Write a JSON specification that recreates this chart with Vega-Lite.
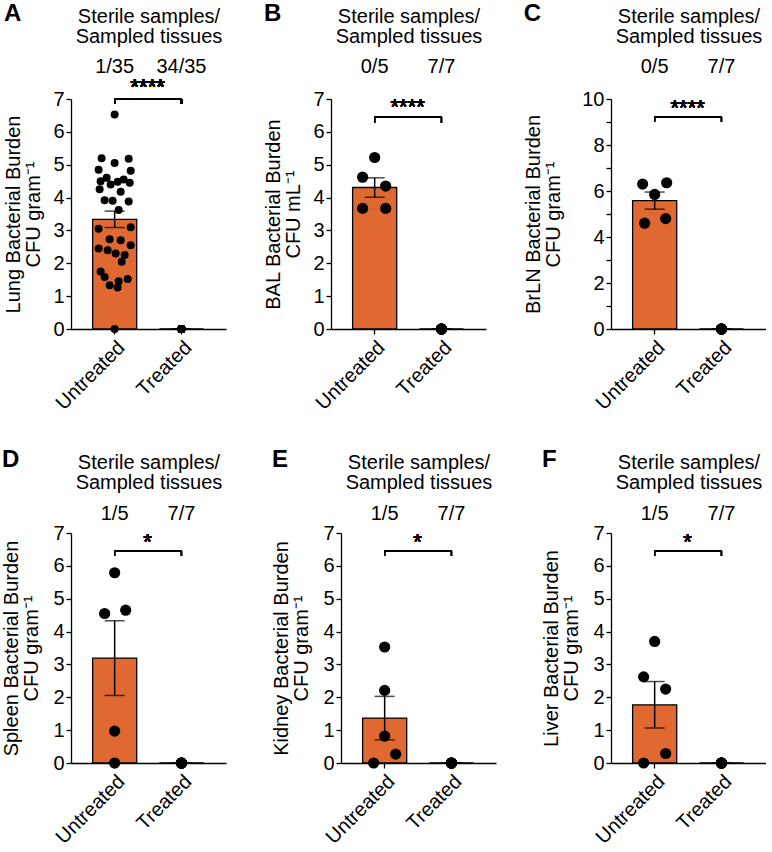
{
  "$schema": "https://vega.github.io/schema/vega-lite/v6.json",
  "padding": {"left": 1, "top": 2, "right": 0, "bottom": 0},
  "background": "white",
  "config": {
    "font": "Liberation Sans",
    "view": {"stroke": null},
    "axis": {"labelFont": "Liberation Sans", "titleFont": "Liberation Sans", "labelFontSize": 20, "titleFontSize": 20, "titleFontWeight": "normal", "titleLineHeight": 20, "labelColor": "black", "titleColor": "black", "domainColor": "black", "tickColor": "black", "domainWidth": 1.3, "tickWidth": 1.3, "grid": false, "labelOverlap": false},
    "title": {"font": "Liberation Sans", "fontSize": 24, "fontWeight": "bold", "color": "black", "anchor": "start", "offset": -20}
  },
  "data": {"values": [
    {"p":"A","g":"Untreated","v":6.53,"j":0},{"p":"A","g":"Untreated","v":5.20,"j":-13},{"p":"A","g":"Untreated","v":5.18,"j":14},{"p":"A","g":"Untreated","v":5.05,"j":0},{"p":"A","g":"Untreated","v":4.85,"j":-16},{"p":"A","g":"Untreated","v":4.82,"j":16},{"p":"A","g":"Untreated","v":4.60,"j":-8},{"p":"A","g":"Untreated","v":4.55,"j":9},{"p":"A","g":"Untreated","v":4.50,"j":-14},{"p":"A","g":"Untreated","v":4.48,"j":3},{"p":"A","g":"Untreated","v":4.45,"j":15},{"p":"A","g":"Untreated","v":4.40,"j":-4},{"p":"A","g":"Untreated","v":4.25,"j":-15},{"p":"A","g":"Untreated","v":4.18,"j":6},{"p":"A","g":"Untreated","v":3.92,"j":-10},{"p":"A","g":"Untreated","v":3.90,"j":-2},{"p":"A","g":"Untreated","v":3.88,"j":14},{"p":"A","g":"Untreated","v":3.62,"j":4},{"p":"A","g":"Untreated","v":3.10,"j":16},{"p":"A","g":"Untreated","v":3.05,"j":-16},{"p":"A","g":"Untreated","v":2.73,"j":-5},{"p":"A","g":"Untreated","v":2.70,"j":6},{"p":"A","g":"Untreated","v":2.55,"j":16},{"p":"A","g":"Untreated","v":2.45,"j":-16},{"p":"A","g":"Untreated","v":2.40,"j":-7},{"p":"A","g":"Untreated","v":2.30,"j":1},{"p":"A","g":"Untreated","v":2.25,"j":10},{"p":"A","g":"Untreated","v":2.05,"j":7},{"p":"A","g":"Untreated","v":1.75,"j":-14},{"p":"A","g":"Untreated","v":1.58,"j":-10},{"p":"A","g":"Untreated","v":1.52,"j":13},{"p":"A","g":"Untreated","v":1.45,"j":4},{"p":"A","g":"Untreated","v":1.33,"j":-5},{"p":"A","g":"Untreated","v":1.26,"j":3},{"p":"A","g":"Untreated","v":0,"j":0},
    {"p":"A","g":"Treated","v":0,"j":0},{"p":"A","g":"Treated","v":0,"j":0},{"p":"A","g":"Treated","v":0,"j":0},{"p":"A","g":"Treated","v":0,"j":0},{"p":"A","g":"Treated","v":0,"j":0},{"p":"A","g":"Treated","v":0,"j":0},{"p":"A","g":"Treated","v":0,"j":0},{"p":"A","g":"Treated","v":0,"j":0},{"p":"A","g":"Treated","v":0,"j":0},{"p":"A","g":"Treated","v":0,"j":0},{"p":"A","g":"Treated","v":0,"j":0},{"p":"A","g":"Treated","v":0,"j":0},{"p":"A","g":"Treated","v":0,"j":0},{"p":"A","g":"Treated","v":0,"j":0},{"p":"A","g":"Treated","v":0,"j":0},{"p":"A","g":"Treated","v":0,"j":0},{"p":"A","g":"Treated","v":0,"j":0},{"p":"A","g":"Treated","v":0,"j":0},{"p":"A","g":"Treated","v":0,"j":0},{"p":"A","g":"Treated","v":0,"j":0},{"p":"A","g":"Treated","v":0,"j":0},{"p":"A","g":"Treated","v":0,"j":0},{"p":"A","g":"Treated","v":0,"j":0},{"p":"A","g":"Treated","v":0,"j":0},{"p":"A","g":"Treated","v":0,"j":0},{"p":"A","g":"Treated","v":0,"j":0},{"p":"A","g":"Treated","v":0,"j":0},{"p":"A","g":"Treated","v":0,"j":0},{"p":"A","g":"Treated","v":0,"j":0},{"p":"A","g":"Treated","v":0,"j":0},{"p":"A","g":"Treated","v":0,"j":0},{"p":"A","g":"Treated","v":0,"j":0},{"p":"A","g":"Treated","v":0,"j":0},{"p":"A","g":"Treated","v":0,"j":0},{"p":"A","g":"Treated","v":0,"j":0},
    {"p":"B","g":"Untreated","v":5.22,"j":0},{"p":"B","g":"Untreated","v":4.62,"j":-12},{"p":"B","g":"Untreated","v":4.35,"j":11},{"p":"B","g":"Untreated","v":3.67,"j":-12},{"p":"B","g":"Untreated","v":3.67,"j":11},
    {"p":"B","g":"Treated","v":0,"j":0},{"p":"B","g":"Treated","v":0,"j":0},{"p":"B","g":"Treated","v":0,"j":0},{"p":"B","g":"Treated","v":0,"j":0},{"p":"B","g":"Treated","v":0,"j":0},{"p":"B","g":"Treated","v":0,"j":0},{"p":"B","g":"Treated","v":0,"j":0},
    {"p":"C","g":"Untreated","v":6.30,"j":-12},{"p":"C","g":"Untreated","v":6.36,"j":12},{"p":"C","g":"Untreated","v":5.85,"j":0},{"p":"C","g":"Untreated","v":4.60,"j":-10},{"p":"C","g":"Untreated","v":4.80,"j":11},
    {"p":"C","g":"Treated","v":0,"j":0},{"p":"C","g":"Treated","v":0,"j":0},{"p":"C","g":"Treated","v":0,"j":0},{"p":"C","g":"Treated","v":0,"j":0},{"p":"C","g":"Treated","v":0,"j":0},{"p":"C","g":"Treated","v":0,"j":0},{"p":"C","g":"Treated","v":0,"j":0},
    {"p":"D","g":"Untreated","v":5.79,"j":0},{"p":"D","g":"Untreated","v":4.55,"j":-10},{"p":"D","g":"Untreated","v":4.65,"j":11},{"p":"D","g":"Untreated","v":0.97,"j":0},{"p":"D","g":"Untreated","v":0,"j":0},
    {"p":"D","g":"Treated","v":0,"j":0},{"p":"D","g":"Treated","v":0,"j":0},{"p":"D","g":"Treated","v":0,"j":0},{"p":"D","g":"Treated","v":0,"j":0},{"p":"D","g":"Treated","v":0,"j":0},{"p":"D","g":"Treated","v":0,"j":0},{"p":"D","g":"Treated","v":0,"j":0},
    {"p":"E","g":"Untreated","v":3.53,"j":0},{"p":"E","g":"Untreated","v":2.21,"j":0},{"p":"E","g":"Untreated","v":0.82,"j":0},{"p":"E","g":"Untreated","v":0.27,"j":11},{"p":"E","g":"Untreated","v":0,"j":-11},
    {"p":"E","g":"Treated","v":0,"j":0},{"p":"E","g":"Treated","v":0,"j":0},{"p":"E","g":"Treated","v":0,"j":0},{"p":"E","g":"Treated","v":0,"j":0},{"p":"E","g":"Treated","v":0,"j":0},{"p":"E","g":"Treated","v":0,"j":0},{"p":"E","g":"Treated","v":0,"j":0},
    {"p":"F","g":"Untreated","v":3.70,"j":0},{"p":"F","g":"Untreated","v":2.62,"j":-11},{"p":"F","g":"Untreated","v":2.25,"j":11},{"p":"F","g":"Untreated","v":0.29,"j":11},{"p":"F","g":"Untreated","v":0,"j":-11},
    {"p":"F","g":"Treated","v":0,"j":0},{"p":"F","g":"Treated","v":0,"j":0},{"p":"F","g":"Treated","v":0,"j":0},{"p":"F","g":"Treated","v":0,"j":0},{"p":"F","g":"Treated","v":0,"j":0},{"p":"F","g":"Treated","v":0,"j":0},{"p":"F","g":"Treated","v":0,"j":0}
  ]},
  "spacing": 34,
  "vconcat": [
    {"hconcat": [
      {"width": 155, "height": 230, "title": "A",
       "transform": [{"filter": "datum.p == 'A'"}],
       "layer": [
         {"mark": {"type": "bar", "fill": "#df6930", "stroke": "black", "strokeWidth": 1.3},
          "encoding": {
            "x": {"field": "g", "type": "nominal", "scale": {"domain": ["Untreated", "Treated"], "paddingInner": 0.34, "paddingOuter": 0.33, "align": 0.49}, "axis": {"title": null, "labelAngle": -45, "tickSize": 5, "labelPadding": 3}},
            "y": {"aggregate": "mean", "field": "v", "type": "quantitative", "scale": {"domain": [0, 7], "nice": false}, "title": ["Lung Bacterial Burden", "CFU gram⁻¹"], "axis": {"values": [0,1,2,3,4,5,6,7], "labelOverlap": false, "tickSize": 5, "labelPadding": 2, "titlePadding": 9}}}},
         {"mark": {"type": "errorbar", "extent": "stderr", "ticks": true, "size": 20, "thickness": 1.5, "color": "black"},
          "encoding": {"x": {"field": "g", "type": "nominal", "axis": null}, "y": {"field": "v", "type": "quantitative", "title": ["Lung Bacterial Burden", "CFU gram⁻¹"], "axis": {"values": [0,1,2,3,4,5,6,7], "labelOverlap": false, "tickSize": 5, "labelPadding": 2, "titlePadding": 9}}}},
         {"mark": {"type": "circle", "size": 64, "color": "black", "opacity": 1},
          "encoding": {"x": {"field": "g", "type": "nominal", "axis": null}, "xOffset": {"field": "j", "type": "quantitative", "scale": {"domain": [-22, 22]}}, "y": {"field": "v", "type": "quantitative", "title": ["Lung Bacterial Burden", "CFU gram⁻¹"], "axis": {"values": [0,1,2,3,4,5,6,7], "labelOverlap": false, "tickSize": 5, "labelPadding": 2, "titlePadding": 9}}}},
         {"mark": {"type": "rule", "color": "black", "strokeWidth": 1.3},
          "encoding": {"x": {"datum": "Untreated", "type": "nominal", "axis": null}, "x2": {"datum": "Treated"}, "y": {"datum": 7, "type": "quantitative", "title": ["Lung Bacterial Burden", "CFU gram⁻¹"], "axis": {"values": [0,1,2,3,4,5,6,7], "labelOverlap": false, "tickSize": 5, "labelPadding": 2, "titlePadding": 9}}}},
         {"mark": {"type": "rule", "color": "black", "strokeWidth": 1.3},
          "encoding": {"x": {"field": "g", "type": "nominal", "axis": {"orient": "top", "title": ["Sterile samples/", "Sampled tissues"], "domain": false, "ticks": false, "labelAngle": 0, "labelPadding": 23, "titlePadding": 10, "labelExpr": "datum.value == 'Untreated' ? '1/35' : '34/35'"}}, "y": {"datum": 7, "type": "quantitative", "title": ["Lung Bacterial Burden", "CFU gram⁻¹"], "axis": {"values": [0,1,2,3,4,5,6,7], "labelOverlap": false, "tickSize": 5, "labelPadding": 2, "titlePadding": 9}}, "y2": {"datum": 6.85}}},
         {"mark": {"type": "text", "text": "****", "fontSize": 22, "baseline": "alphabetic", "align": "center", "dx": 33, "color": "black"},
          "encoding": {"x": {"datum": "Untreated", "type": "nominal", "axis": null}, "y": {"datum": 7.15, "type": "quantitative", "title": ["Lung Bacterial Burden", "CFU gram⁻¹"], "axis": {"values": [0,1,2,3,4,5,6,7], "labelOverlap": false, "tickSize": 5, "labelPadding": 2, "titlePadding": 9}}}}
       ],
       "resolve": {"axis": {"x": "independent"}, "scale": {"xOffset": "independent"}}},
      {"width": 155, "height": 230, "title": "B",
       "transform": [{"filter": "datum.p == 'B'"}],
       "layer": [
         {"mark": {"type": "bar", "fill": "#df6930", "stroke": "black", "strokeWidth": 1.3},
          "encoding": {
            "x": {"field": "g", "type": "nominal", "scale": {"domain": ["Untreated", "Treated"], "paddingInner": 0.34, "paddingOuter": 0.33, "align": 0.49}, "axis": {"title": null, "labelAngle": -45, "tickSize": 5, "labelPadding": 3}},
            "y": {"aggregate": "mean", "field": "v", "type": "quantitative", "scale": {"domain": [0, 7], "nice": false}, "title": ["BAL Bacterial Burden", "CFU mL⁻¹"], "axis": {"values": [0,1,2,3,4,5,6,7], "labelOverlap": false, "tickSize": 5, "labelPadding": 2, "titlePadding": 9}}}},
         {"mark": {"type": "errorbar", "extent": "stderr", "ticks": true, "size": 20, "thickness": 1.5, "color": "black"},
          "encoding": {"x": {"field": "g", "type": "nominal", "axis": null}, "y": {"field": "v", "type": "quantitative", "title": ["BAL Bacterial Burden", "CFU mL⁻¹"], "axis": {"values": [0,1,2,3,4,5,6,7], "labelOverlap": false, "tickSize": 5, "labelPadding": 2, "titlePadding": 9}}}},
         {"mark": {"type": "circle", "size": 125, "color": "black", "opacity": 1},
          "encoding": {"x": {"field": "g", "type": "nominal", "axis": null}, "xOffset": {"field": "j", "type": "quantitative", "scale": {"domain": [-22, 22]}}, "y": {"field": "v", "type": "quantitative", "title": ["BAL Bacterial Burden", "CFU mL⁻¹"], "axis": {"values": [0,1,2,3,4,5,6,7], "labelOverlap": false, "tickSize": 5, "labelPadding": 2, "titlePadding": 9}}}},
         {"mark": {"type": "rule", "color": "black", "strokeWidth": 1.3},
          "encoding": {"x": {"datum": "Untreated", "type": "nominal", "axis": null}, "x2": {"datum": "Treated"}, "y": {"datum": 6.46, "type": "quantitative", "title": ["BAL Bacterial Burden", "CFU mL⁻¹"], "axis": {"values": [0,1,2,3,4,5,6,7], "labelOverlap": false, "tickSize": 5, "labelPadding": 2, "titlePadding": 9}}}},
         {"mark": {"type": "rule", "color": "black", "strokeWidth": 1.3},
          "encoding": {"x": {"field": "g", "type": "nominal", "axis": {"orient": "top", "title": ["Sterile samples/", "Sampled tissues"], "domain": false, "ticks": false, "labelAngle": 0, "labelPadding": 23, "titlePadding": 10, "labelExpr": "datum.value == 'Untreated' ? '0/5' : '7/7'"}}, "y": {"datum": 6.46, "type": "quantitative", "title": ["BAL Bacterial Burden", "CFU mL⁻¹"], "axis": {"values": [0,1,2,3,4,5,6,7], "labelOverlap": false, "tickSize": 5, "labelPadding": 2, "titlePadding": 9}}, "y2": {"datum": 6.27}}},
         {"mark": {"type": "text", "text": "****", "fontSize": 22, "baseline": "alphabetic", "align": "center", "dx": 33, "color": "black"},
          "encoding": {"x": {"datum": "Untreated", "type": "nominal", "axis": null}, "y": {"datum": 6.54, "type": "quantitative", "title": ["BAL Bacterial Burden", "CFU mL⁻¹"], "axis": {"values": [0,1,2,3,4,5,6,7], "labelOverlap": false, "tickSize": 5, "labelPadding": 2, "titlePadding": 9}}}}
       ],
       "resolve": {"axis": {"x": "independent"}, "scale": {"xOffset": "independent"}}},
      {"width": 155, "height": 230, "title": "C",
       "transform": [{"filter": "datum.p == 'C'"}],
       "layer": [
         {"mark": {"type": "bar", "fill": "#df6930", "stroke": "black", "strokeWidth": 1.3},
          "encoding": {
            "x": {"field": "g", "type": "nominal", "scale": {"domain": ["Untreated", "Treated"], "paddingInner": 0.34, "paddingOuter": 0.33, "align": 0.49}, "axis": {"title": null, "labelAngle": -45, "tickSize": 5, "labelPadding": 3}},
            "y": {"aggregate": "mean", "field": "v", "type": "quantitative", "scale": {"domain": [0, 10], "nice": false}, "title": ["BrLN Bacterial Burden", "CFU gram⁻¹"], "axis": {"values": [0,1,2,3,4,5,6,7,8,9,10], "labelOverlap": false, "labelExpr": "datum.value % 2 == 0 ? datum.label : ''", "tickSize": 5, "labelPadding": 2, "titlePadding": 18}}}},
         {"mark": {"type": "errorbar", "extent": "stderr", "ticks": true, "size": 20, "thickness": 1.5, "color": "black"},
          "encoding": {"x": {"field": "g", "type": "nominal", "axis": null}, "y": {"field": "v", "type": "quantitative", "title": ["BrLN Bacterial Burden", "CFU gram⁻¹"], "axis": {"values": [0,1,2,3,4,5,6,7,8,9,10], "labelOverlap": false, "labelExpr": "datum.value % 2 == 0 ? datum.label : ''", "tickSize": 5, "labelPadding": 2, "titlePadding": 18}}}},
         {"mark": {"type": "circle", "size": 125, "color": "black", "opacity": 1},
          "encoding": {"x": {"field": "g", "type": "nominal", "axis": null}, "xOffset": {"field": "j", "type": "quantitative", "scale": {"domain": [-22, 22]}}, "y": {"field": "v", "type": "quantitative", "title": ["BrLN Bacterial Burden", "CFU gram⁻¹"], "axis": {"values": [0,1,2,3,4,5,6,7,8,9,10], "labelOverlap": false, "labelExpr": "datum.value % 2 == 0 ? datum.label : ''", "tickSize": 5, "labelPadding": 2, "titlePadding": 18}}}},
         {"mark": {"type": "rule", "color": "black", "strokeWidth": 1.3},
          "encoding": {"x": {"datum": "Untreated", "type": "nominal", "axis": null}, "x2": {"datum": "Treated"}, "y": {"datum": 9.22, "type": "quantitative", "title": ["BrLN Bacterial Burden", "CFU gram⁻¹"], "axis": {"values": [0,1,2,3,4,5,6,7,8,9,10], "labelOverlap": false, "labelExpr": "datum.value % 2 == 0 ? datum.label : ''", "tickSize": 5, "labelPadding": 2, "titlePadding": 18}}}},
         {"mark": {"type": "rule", "color": "black", "strokeWidth": 1.3},
          "encoding": {"x": {"field": "g", "type": "nominal", "axis": {"orient": "top", "title": ["Sterile samples/", "Sampled tissues"], "domain": false, "ticks": false, "labelAngle": 0, "labelPadding": 23, "titlePadding": 10, "labelExpr": "datum.value == 'Untreated' ? '0/5' : '7/7'"}}, "y": {"datum": 9.22, "type": "quantitative", "title": ["BrLN Bacterial Burden", "CFU gram⁻¹"], "axis": {"values": [0,1,2,3,4,5,6,7,8,9,10], "labelOverlap": false, "labelExpr": "datum.value % 2 == 0 ? datum.label : ''", "tickSize": 5, "labelPadding": 2, "titlePadding": 18}}, "y2": {"datum": 9.0}}},
         {"mark": {"type": "text", "text": "****", "fontSize": 22, "baseline": "alphabetic", "align": "center", "dx": 33, "color": "black"},
          "encoding": {"x": {"datum": "Untreated", "type": "nominal", "axis": null}, "y": {"datum": 9.3, "type": "quantitative", "title": ["BrLN Bacterial Burden", "CFU gram⁻¹"], "axis": {"values": [0,1,2,3,4,5,6,7,8,9,10], "labelOverlap": false, "labelExpr": "datum.value % 2 == 0 ? datum.label : ''", "tickSize": 5, "labelPadding": 2, "titlePadding": 18}}}}
       ],
       "resolve": {"axis": {"x": "independent"}, "scale": {"xOffset": "independent"}}}
    ], "spacing": 37},
    {"hconcat": [
      {"width": 155, "height": 230, "title": "D",
       "transform": [{"filter": "datum.p == 'D'"}],
       "layer": [
         {"mark": {"type": "bar", "fill": "#df6930", "stroke": "black", "strokeWidth": 1.3},
          "encoding": {
            "x": {"field": "g", "type": "nominal", "scale": {"domain": ["Untreated", "Treated"], "paddingInner": 0.34, "paddingOuter": 0.33, "align": 0.49}, "axis": {"title": null, "labelAngle": -45, "tickSize": 5, "labelPadding": 3}},
            "y": {"aggregate": "mean", "field": "v", "type": "quantitative", "scale": {"domain": [0, 7], "nice": false}, "title": ["Spleen Bacterial Burden", "CFU gram⁻¹"], "axis": {"values": [0,1,2,3,4,5,6,7], "labelOverlap": false, "tickSize": 5, "labelPadding": 2, "titlePadding": 11}}}},
         {"mark": {"type": "errorbar", "extent": "stderr", "ticks": true, "size": 20, "thickness": 1.5, "color": "black"},
          "encoding": {"x": {"field": "g", "type": "nominal", "axis": null}, "y": {"field": "v", "type": "quantitative", "title": ["Spleen Bacterial Burden", "CFU gram⁻¹"], "axis": {"values": [0,1,2,3,4,5,6,7], "labelOverlap": false, "tickSize": 5, "labelPadding": 2, "titlePadding": 11}}}},
         {"mark": {"type": "circle", "size": 125, "color": "black", "opacity": 1},
          "encoding": {"x": {"field": "g", "type": "nominal", "axis": null}, "xOffset": {"field": "j", "type": "quantitative", "scale": {"domain": [-22, 22]}}, "y": {"field": "v", "type": "quantitative", "title": ["Spleen Bacterial Burden", "CFU gram⁻¹"], "axis": {"values": [0,1,2,3,4,5,6,7], "labelOverlap": false, "tickSize": 5, "labelPadding": 2, "titlePadding": 11}}}},
         {"mark": {"type": "rule", "color": "black", "strokeWidth": 1.3},
          "encoding": {"x": {"datum": "Untreated", "type": "nominal", "axis": null}, "x2": {"datum": "Treated"}, "y": {"datum": 6.45, "type": "quantitative", "title": ["Spleen Bacterial Burden", "CFU gram⁻¹"], "axis": {"values": [0,1,2,3,4,5,6,7], "labelOverlap": false, "tickSize": 5, "labelPadding": 2, "titlePadding": 11}}}},
         {"mark": {"type": "rule", "color": "black", "strokeWidth": 1.3},
          "encoding": {"x": {"field": "g", "type": "nominal", "axis": {"orient": "top", "title": ["Sterile samples/", "Sampled tissues"], "domain": false, "ticks": false, "labelAngle": 0, "labelPadding": 10, "titlePadding": 11, "labelExpr": "datum.value == 'Untreated' ? '1/5' : '7/7'"}}, "y": {"datum": 6.45, "type": "quantitative", "title": ["Spleen Bacterial Burden", "CFU gram⁻¹"], "axis": {"values": [0,1,2,3,4,5,6,7], "labelOverlap": false, "tickSize": 5, "labelPadding": 2, "titlePadding": 11}}, "y2": {"datum": 6.3}}},
         {"mark": {"type": "text", "text": "*", "fontSize": 22, "baseline": "alphabetic", "align": "center", "dx": 33, "color": "black"},
          "encoding": {"x": {"datum": "Untreated", "type": "nominal", "axis": null}, "y": {"datum": 6.52, "type": "quantitative", "title": ["Spleen Bacterial Burden", "CFU gram⁻¹"], "axis": {"values": [0,1,2,3,4,5,6,7], "labelOverlap": false, "tickSize": 5, "labelPadding": 2, "titlePadding": 11}}}}
       ],
       "resolve": {"axis": {"x": "independent"}, "scale": {"xOffset": "independent"}}},
      {"width": 155, "height": 230, "title": "E",
       "transform": [{"filter": "datum.p == 'E'"}],
       "layer": [
         {"mark": {"type": "bar", "fill": "#df6930", "stroke": "black", "strokeWidth": 1.3},
          "encoding": {
            "x": {"field": "g", "type": "nominal", "scale": {"domain": ["Untreated", "Treated"], "paddingInner": 0.34, "paddingOuter": 0.33, "align": 0.49}, "axis": {"title": null, "labelAngle": -45, "tickSize": 5, "labelPadding": 3}},
            "y": {"aggregate": "mean", "field": "v", "type": "quantitative", "scale": {"domain": [0, 7], "nice": false}, "title": ["Kidney Bacterial Burden", "CFU gram⁻¹"], "axis": {"values": [0,1,2,3,4,5,6,7], "labelOverlap": false, "tickSize": 5, "labelPadding": 2, "titlePadding": 11}}}},
         {"mark": {"type": "errorbar", "extent": "stderr", "ticks": true, "size": 20, "thickness": 1.5, "color": "black"},
          "encoding": {"x": {"field": "g", "type": "nominal", "axis": null}, "y": {"field": "v", "type": "quantitative", "title": ["Kidney Bacterial Burden", "CFU gram⁻¹"], "axis": {"values": [0,1,2,3,4,5,6,7], "labelOverlap": false, "tickSize": 5, "labelPadding": 2, "titlePadding": 11}}}},
         {"mark": {"type": "circle", "size": 125, "color": "black", "opacity": 1},
          "encoding": {"x": {"field": "g", "type": "nominal", "axis": null}, "xOffset": {"field": "j", "type": "quantitative", "scale": {"domain": [-22, 22]}}, "y": {"field": "v", "type": "quantitative", "title": ["Kidney Bacterial Burden", "CFU gram⁻¹"], "axis": {"values": [0,1,2,3,4,5,6,7], "labelOverlap": false, "tickSize": 5, "labelPadding": 2, "titlePadding": 11}}}},
         {"mark": {"type": "rule", "color": "black", "strokeWidth": 1.3},
          "encoding": {"x": {"datum": "Untreated", "type": "nominal", "axis": null}, "x2": {"datum": "Treated"}, "y": {"datum": 6.45, "type": "quantitative", "title": ["Kidney Bacterial Burden", "CFU gram⁻¹"], "axis": {"values": [0,1,2,3,4,5,6,7], "labelOverlap": false, "tickSize": 5, "labelPadding": 2, "titlePadding": 11}}}},
         {"mark": {"type": "rule", "color": "black", "strokeWidth": 1.3},
          "encoding": {"x": {"field": "g", "type": "nominal", "axis": {"orient": "top", "title": ["Sterile samples/", "Sampled tissues"], "domain": false, "ticks": false, "labelAngle": 0, "labelPadding": 10, "titlePadding": 11, "labelExpr": "datum.value == 'Untreated' ? '1/5' : '7/7'"}}, "y": {"datum": 6.45, "type": "quantitative", "title": ["Kidney Bacterial Burden", "CFU gram⁻¹"], "axis": {"values": [0,1,2,3,4,5,6,7], "labelOverlap": false, "tickSize": 5, "labelPadding": 2, "titlePadding": 11}}, "y2": {"datum": 6.3}}},
         {"mark": {"type": "text", "text": "*", "fontSize": 22, "baseline": "alphabetic", "align": "center", "dx": 33, "color": "black"},
          "encoding": {"x": {"datum": "Untreated", "type": "nominal", "axis": null}, "y": {"datum": 6.52, "type": "quantitative", "title": ["Kidney Bacterial Burden", "CFU gram⁻¹"], "axis": {"values": [0,1,2,3,4,5,6,7], "labelOverlap": false, "tickSize": 5, "labelPadding": 2, "titlePadding": 11}}}}
       ],
       "resolve": {"axis": {"x": "independent"}, "scale": {"xOffset": "independent"}}},
      {"width": 155, "height": 230, "title": "F",
       "transform": [{"filter": "datum.p == 'F'"}],
       "layer": [
         {"mark": {"type": "bar", "fill": "#df6930", "stroke": "black", "strokeWidth": 1.3},
          "encoding": {
            "x": {"field": "g", "type": "nominal", "scale": {"domain": ["Untreated", "Treated"], "paddingInner": 0.34, "paddingOuter": 0.33, "align": 0.49}, "axis": {"title": null, "labelAngle": -45, "tickSize": 5, "labelPadding": 3}},
            "y": {"aggregate": "mean", "field": "v", "type": "quantitative", "scale": {"domain": [0, 7], "nice": false}, "title": ["Liver Bacterial Burden", "CFU gram⁻¹"], "axis": {"values": [0,1,2,3,4,5,6,7], "labelOverlap": false, "tickSize": 5, "labelPadding": 2, "titlePadding": 11}}}},
         {"mark": {"type": "errorbar", "extent": "stderr", "ticks": true, "size": 20, "thickness": 1.5, "color": "black"},
          "encoding": {"x": {"field": "g", "type": "nominal", "axis": null}, "y": {"field": "v", "type": "quantitative", "title": ["Liver Bacterial Burden", "CFU gram⁻¹"], "axis": {"values": [0,1,2,3,4,5,6,7], "labelOverlap": false, "tickSize": 5, "labelPadding": 2, "titlePadding": 11}}}},
         {"mark": {"type": "circle", "size": 125, "color": "black", "opacity": 1},
          "encoding": {"x": {"field": "g", "type": "nominal", "axis": null}, "xOffset": {"field": "j", "type": "quantitative", "scale": {"domain": [-22, 22]}}, "y": {"field": "v", "type": "quantitative", "title": ["Liver Bacterial Burden", "CFU gram⁻¹"], "axis": {"values": [0,1,2,3,4,5,6,7], "labelOverlap": false, "tickSize": 5, "labelPadding": 2, "titlePadding": 11}}}},
         {"mark": {"type": "rule", "color": "black", "strokeWidth": 1.3},
          "encoding": {"x": {"datum": "Untreated", "type": "nominal", "axis": null}, "x2": {"datum": "Treated"}, "y": {"datum": 6.45, "type": "quantitative", "title": ["Liver Bacterial Burden", "CFU gram⁻¹"], "axis": {"values": [0,1,2,3,4,5,6,7], "labelOverlap": false, "tickSize": 5, "labelPadding": 2, "titlePadding": 11}}}},
         {"mark": {"type": "rule", "color": "black", "strokeWidth": 1.3},
          "encoding": {"x": {"field": "g", "type": "nominal", "axis": {"orient": "top", "title": ["Sterile samples/", "Sampled tissues"], "domain": false, "ticks": false, "labelAngle": 0, "labelPadding": 10, "titlePadding": 11, "labelExpr": "datum.value == 'Untreated' ? '1/5' : '7/7'"}}, "y": {"datum": 6.45, "type": "quantitative", "title": ["Liver Bacterial Burden", "CFU gram⁻¹"], "axis": {"values": [0,1,2,3,4,5,6,7], "labelOverlap": false, "tickSize": 5, "labelPadding": 2, "titlePadding": 11}}, "y2": {"datum": 6.3}}},
         {"mark": {"type": "text", "text": "*", "fontSize": 22, "baseline": "alphabetic", "align": "center", "dx": 33, "color": "black"},
          "encoding": {"x": {"datum": "Untreated", "type": "nominal", "axis": null}, "y": {"datum": 6.52, "type": "quantitative", "title": ["Liver Bacterial Burden", "CFU gram⁻¹"], "axis": {"values": [0,1,2,3,4,5,6,7], "labelOverlap": false, "tickSize": 5, "labelPadding": 2, "titlePadding": 11}}}}
       ],
       "resolve": {"axis": {"x": "independent"}, "scale": {"xOffset": "independent"}}}
    ], "spacing": 45}
  ]
}
